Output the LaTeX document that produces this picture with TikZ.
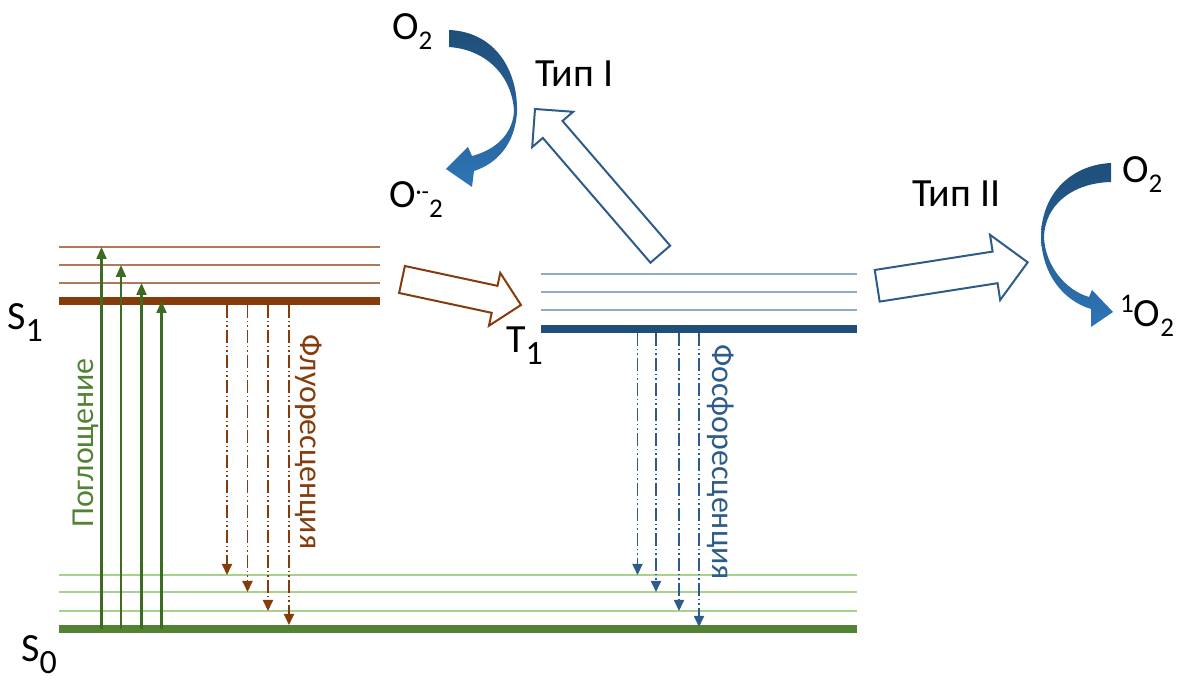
\documentclass[tikz,border=0pt]{standalone}
\usepackage{fontspec}
\setmainfont{Carlito}
\usetikzlibrary{arrows.meta,calc}

\definecolor{marron}{HTML}{843C0C}
\definecolor{marronclaro}{HTML}{B07A5A}
\definecolor{verde}{HTML}{548235}
\definecolor{verdeoscuro}{HTML}{3D6B22}
\definecolor{verdeclaro}{HTML}{A9D18E}
\definecolor{azul}{HTML}{1F4E79}
\definecolor{azulmedio}{HTML}{2E5C8A}
\definecolor{azulclaro}{HTML}{8FAAC8}
\definecolor{azulvivo}{HTML}{2E75B6}

\newcommand{\ind}[1]{\raisebox{-0.3em}{\fontsize{34}{34}\selectfont #1}}
\newcommand{\indo}[1]{\raisebox{-0.25em}{\fontsize{27}{27}\selectfont #1}}
\newcommand{\expo}[1]{\raisebox{0.37em}{\fontsize{27}{27}\selectfont #1}}
\newcommand{\flechahueca}[5]{%
	\draw[#1] let \p1=($(#3)-(#2)$), \n1={atan2(\y1,\x1)}, \n2={veclen(\x1,\y1)-#5} in
		($(#2)+({\n1-90}:#4)$) -- ($(#2)+(\n1:\n2)+({\n1-90}:#4)$) -- ($(#2)+(\n1:\n2)+({\n1-90}:#5)$)
		-- (#3) -- ($(#2)+(\n1:\n2)+({\n1+90}:#5)$) -- ($(#2)+(\n1:\n2)+({\n1+90}:#4)$)
		-- ($(#2)+({\n1+90}:#4)$) -- cycle;}

\tikzstyle{etiqueta} = [font=\fontsize{40}{44}\selectfont, inner sep=0pt, anchor=base west]
\tikzstyle{rotulo} = [font=\fontsize{32}{34}\selectfont, inner sep=0pt, anchor=base]
\tikzstyle{nivel} = [line width=1.3pt]
\tikzstyle{nivelbase} = [line width=8pt]
\tikzstyle{absorcion} = [draw=verdeoscuro, line width=2.2pt, -{Triangle[length=12pt,width=10pt]}]
\tikzstyle{emision} = [line width=1.8pt, dash pattern=on 13pt off 3pt on 1.5pt off 3pt on 1.5pt off 3pt, -{Triangle[length=11pt,width=10pt]}]
\tikzstyle{hueca} = [line width=2pt, fill=white, line join=miter]
\tikzstyle{curva} = [top color=azul, bottom color=azulvivo, draw=none]

\begin{document}
\begin{tikzpicture}[x=1pt, y=1pt]
	\useasboundingbox (0,0) rectangle (1194,682);

	\foreach \y in {435,417,399} \draw[nivel, marronclaro] (59,\y) -- (380,\y);
	\draw[nivelbase, marron] (59,381) -- (380,381);
	\foreach \y in {408,390,372} \draw[nivel, azulclaro] (541,\y) -- (857,\y);
	\draw[nivelbase, azul] (541,353) -- (857,353);
	\foreach \y in {107,90,71} \draw[nivel, verdeclaro] (59,\y) -- (857,\y);
	\draw[nivelbase, verde] (59,53) -- (857,53);

	\foreach \x/\y [count=\i] in {101.5/435, 121/417, 141.5/399, 161.5/381} {
		\coordinate (abs\i) at (\x,53);
		\coordinate (exc\i) at (\x,\y);
		\draw[absorcion] (abs\i) -- (exc\i);
	}
	\foreach \x/\y [count=\i] in {227/107, 247.5/90, 268/71, 289/57} {
		\coordinate (fla\i) at (\x,377);
		\coordinate (flb\i) at (\x,\y);
		\draw[emision, marron] (fla\i) -- (flb\i);
	}
	\foreach \x/\y [count=\i] in {637.5/107, 656/90, 679/71, 699/55} {
		\coordinate (foa\i) at (\x,349);
		\coordinate (fob\i) at (\x,\y);
		\draw[emision, azulmedio] (foa\i) -- (fob\i);
	}

	\node[rotulo, rotate=90, text=verde] (absorcion) at (93,239) {Поглощение};
	\node[rotulo, rotate=-90, text=marron] (fluor) at (300,240) {Флуоресценция};
	\node[rotulo, rotate=-90, text=azulmedio] (fosfor) at (712,220) {Фосфоресценция};

	\node[etiqueta] (S1) at (7,352) {S\ind{1}};
	\node[etiqueta] (S0) at (21,20) {S\ind{0}};
	\node[etiqueta] (T1) at (506,329) {T\ind{1}};
	\node[etiqueta] (o2a) at (392,642) {O\indo{2}};
	\node[etiqueta] (tipo1) at (535,595) {Тип I};
	\node[etiqueta] (radical) at (389,474) {O\raisebox{0.2em}{\fontsize{24}{24}\selectfont ·-}\indo{2}};
	\node[etiqueta] (tipo2) at (912,475) {Тип II};
	\node[etiqueta] (o2b) at (1122,499) {O\indo{2}};
	\node[etiqueta] (singlete) at (1120,355) {\expo{1}O\indo{2}};

	\coordinate (cruceA) at (402,402.5);
	\coordinate (cruceB) at (521,377);
	\coordinate (tipo1A) at (660.3,427.8);
	\coordinate (tipo1B) at (535,573);
	\coordinate (tipo2A) at (877.2,396.2);
	\coordinate (tipo2B) at (1027.7,419.7);
	\flechahueca{hueca, draw=marron}{cruceA}{cruceB}{13.8}{27}
	\flechahueca{hueca, draw=azulmedio}{tipo1A}{tipo1B}{13}{27}
	\flechahueca{hueca, draw=azulmedio}{tipo2A}{tipo2B}{16}{33}

	\shade[curva] (449,652) .. controls (495,650) and (518,612) .. (517,570) .. controls (515,537) and (496,518) .. (474,511) -- (472,495) -- (446,513) -- (468,535) -- (472,526) .. controls (495,532) and (512,547) .. (514,570) .. controls (513,602) and (490,632) .. (449,635) -- cycle;
	\shade[curva] (1111,519) .. controls (1070,517) and (1041,487) .. (1041,445) .. controls (1042,407) and (1064,381) .. (1091,373) -- (1091,355) -- (1113,370) -- (1092,392) -- (1089,385) .. controls (1065,392) and (1045,417) .. (1044,445) .. controls (1045,477) and (1072,499) .. (1111,500) -- cycle;
\end{tikzpicture}
\end{document}
